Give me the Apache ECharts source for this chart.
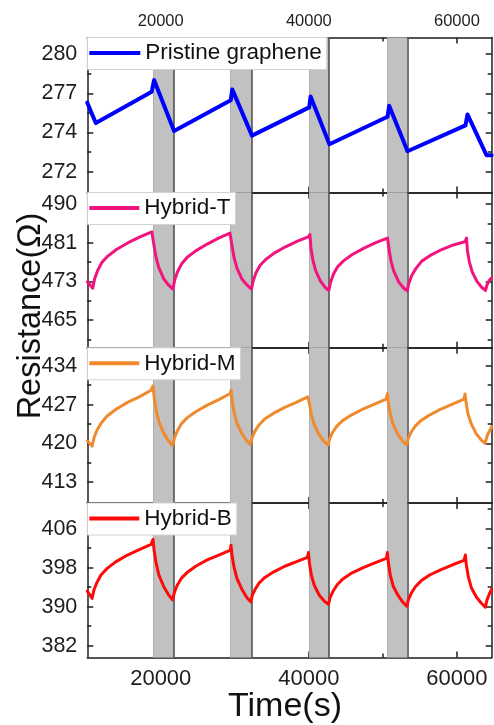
<!DOCTYPE html>
<html><head><meta charset="utf-8">
<script src="https://cdn.jsdelivr.net/npm/echarts@6/dist/echarts.min.js"></script>
<style>html,body{margin:0;padding:0;background:#fff}#c{width:494px;height:725px}</style>
</head><body><div id="c"></div>
<script>
// ---------------- data ----------------
const pristineTime = [10080, 11230, 18785, 19100, 21800, 29450, 29660, 32320, 40050, 40240, 42780, 50630, 50850, 53330, 61160, 61430, 63990, 64700];
const pristineRes  = [276.4, 275.1, 277.1, 277.85, 274.6, 276.55, 277.25, 274.3, 276.1, 276.8, 273.75, 275.5, 276.2, 273.3, 274.95, 275.65, 273.05, 273.05];

const hybridTTime = [10080, 10820,
  11059, 11458, 12016, 12813, 14008, 15602, 17196, 18790, 18920,
  19057, 19330, 19739, 20422, 21104, 21650,
  21881, 22266, 22805, 23575, 24730, 26270, 27810, 29350, 29490,
  29628, 29904, 30318, 31008, 31698, 32250,
  32480, 32864, 33401, 34168, 35318, 36852, 38386, 39920, 40150,
  40278, 40533, 40915, 41553, 42190, 42700,
  42938, 43334, 43890, 44683, 45872, 47458, 49044, 50630, 50720,
  50848, 51104, 51488, 52128, 52768, 53280,
  53514, 53903, 54449, 55228, 56396, 57954, 59512, 61070, 61300,
  61428, 61683, 62065, 62703, 63340, 63850,
  64084, 64400, 64700];
const hybridTRes = [472.9, 471.5,
  473.5, 475.3, 477.1, 478.5, 480.0, 481.5, 482.8, 483.9, 484.3,
  481.2, 478.5, 476.0, 473.5, 472.1, 471.3,
  473.3, 475.1, 476.8, 478.3, 479.7, 481.2, 482.5, 483.6, 483.8,
  480.8, 478.2, 475.8, 473.4, 472.1, 471.3,
  473.1, 474.9, 476.5, 477.8, 479.2, 480.6, 481.8, 482.8, 483.3,
  480.4, 477.8, 475.4, 473.1, 471.7, 471.0,
  472.8, 474.6, 476.2, 477.5, 478.9, 480.3, 481.5, 482.5, 482.8,
  479.9, 477.4, 475.2, 472.9, 471.6, 470.9,
  472.6, 474.3, 475.8, 477.4, 478.7, 480.0, 481.0, 481.7, 482.5,
  479.7, 477.3, 475.1, 473.0, 471.7, 471.0,
  472.3, 473.3, 473.8];

const hybridMTime = [10080, 10730,
  10969, 11367, 11924, 12720, 13914, 15506, 17098, 18690, 18960,
  19092, 19356, 19752, 20412, 21072, 21600,
  21834, 22224, 22770, 23550, 24720, 26280, 27840, 29400, 29500,
  29630, 29890, 30280, 30930, 31580, 32100,
  32333, 32720, 33263, 34038, 35200, 36750, 38300, 39850, 39950,
  40083, 40348, 40745, 41408, 42070, 42600,
  42836, 43228, 43778, 44563, 45740, 47310, 48880, 50450, 50610,
  50740, 50999, 51387, 52035, 52682, 53200,
  53433, 53821, 54364, 55140, 56304, 57856, 59408, 60960, 61100,
  61235, 61505, 61910, 62585, 63260, 63800,
  64100, 64700];
const hybridMRes = [420.4, 419.5,
  420.9, 422.3, 423.6, 424.9, 426.1, 427.4, 428.4, 429.6, 430.4,
  428.6, 426.1, 423.9, 421.8, 420.4, 419.6,
  420.9, 422.2, 423.5, 424.6, 425.7, 426.9, 427.9, 429.0, 429.6,
  427.9, 425.7, 423.7, 421.8, 420.5, 419.8,
  421.0, 422.2, 423.3, 424.4, 425.4, 426.5, 427.4, 428.4, 428.7,
  427.2, 425.1, 423.3, 421.5, 420.3, 419.7,
  420.9, 422.0, 423.1, 424.1, 425.1, 426.2, 427.1, 428.0, 429.0,
  427.4, 425.3, 423.4, 421.6, 420.4, 419.7,
  420.9, 422.0, 423.1, 424.1, 425.1, 426.2, 427.1, 428.0, 428.9,
  427.4, 425.3, 423.6, 421.8, 420.6, 420.0,
  421.4, 423.0];

const hybridBTime = [10080, 10730,
  10969, 11367, 11924, 12720, 13914, 15506, 17098, 18690, 18960,
  19092, 19356, 19752, 20412, 21072, 21600,
  21834, 22224, 22770, 23550, 24720, 26280, 27840, 29400, 29490,
  29623, 29889, 30288, 30953, 31618, 32150,
  32380, 32762, 33298, 34063, 35210, 36740, 38270, 39800, 39950,
  40085, 40355, 40760, 41435, 42110, 42650,
  42885, 43276, 43825, 44608, 45782, 47348, 48914, 50480, 50610,
  50741, 51003, 51396, 52051, 52706, 53230,
  53462, 53848, 54390, 55163, 56322, 57868, 59414, 60960, 61140,
  61275, 61545, 61950, 62625, 63300, 63840,
  64070, 64400, 64700];
const hybridBRes = [393.2, 391.7,
  393.4, 394.9, 396.5, 397.8, 399.2, 400.6, 401.7, 402.8, 403.8,
  401.7, 399.1, 396.5, 394.1, 392.4, 391.4,
  392.9, 394.4, 395.8, 397.0, 398.3, 399.6, 400.6, 401.6, 402.6,
  400.6, 398.2, 395.8, 393.6, 391.9, 391.0,
  392.4, 393.6, 394.9, 396.0, 397.1, 398.3, 399.2, 400.1, 401.1,
  398.9, 396.4, 394.3, 392.3, 391.1, 390.5,
  391.9, 393.2, 394.5, 395.7, 396.9, 398.0, 399.0, 399.9, 401.1,
  399.0, 396.5, 394.2, 392.3, 390.9, 390.1,
  391.5, 392.8, 394.1, 395.3, 396.5, 397.6, 398.6, 399.5, 400.6,
  398.6, 396.1, 393.9, 392.0, 390.7, 389.9,
  391.4, 392.7, 393.6];

const bandStarts = [19000, 29450, 40050, 50600];
const bandEnds   = [21800, 32300, 42750, 53300];

const xMajorTicks = [20000, 40000, 60000];
const xTickLabels = ['20000', '40000', '60000'];
const xMinorTicks = [30000, 50000];

const yMajorTicks1 = [272, 274.5, 277, 279.5];
const yTickLabels1 = ['272', '274', '277', '280'];
const yMinorTicks1 = [273.25, 275.75, 278.25];

const yMajorTicks2 = [464.5, 473, 481.5, 490];
const yTickLabels2 = ['465', '473', '481', '490'];
const yMinorTicks2 = [460.25, 468.75, 477.25, 485.75];

const yMajorTicks3 = [413, 420, 427, 434];
const yTickLabels3 = ['413', '420', '427', '434'];
const yMinorTicks3 = [416.5, 423.5, 430.5];

const yMajorTicks4 = [382, 390, 398, 406];
const yTickLabels4 = ['382', '390', '398', '406'];
const yMinorTicks4 = [386, 394, 402, 410];

const seriesNames = ['Pristine graphene', 'Hybrid-T', 'Hybrid-M', 'Hybrid-B'];

// ---------------- chart ----------------
const font = '"Liberation Sans", Arial, Helvetica, sans-serif';
const ink = '#1e1e1e';
const xMin = 10080, xMax = 64700;
const gridBoxes = [
  {top: 37.5, height: 155},
  {top: 192.5, height: 155.3},
  {top: 347.8, height: 155.2},
  {top: 503, height: 154.5}
];
const yRanges = [[270.67, 280.56], [458.39, 492.54], [409.2, 437.27], [379.58, 411.27]];
const yMajors = [yMajorTicks1, yMajorTicks2, yMajorTicks3, yMajorTicks4];
const yLabels = [yTickLabels1, yTickLabels2, yTickLabels3, yTickLabels4];
const yMinors = [yMinorTicks1, yMinorTicks2, yMinorTicks3, yMinorTicks4];
const colors = ['#0000ff', '#f2147e', '#f08a2e', '#ff0a0a'];
const widths = [4, 3, 3, 3];
const times = [pristineTime, hybridTTime, hybridMTime, hybridBTime];
const values = [pristineRes, hybridTRes, hybridMRes, hybridBRes];

function fmt(ticks, labels) {
  return v => { const i = ticks.findIndex(t => Math.abs(t - v) < 1e-6); return i >= 0 ? labels[i] : ''; };
}
const lineSt = {color: ink, width: 1.5};

const grid = [], xAxis = [], yAxis = [], series = [], legend = [];
gridBoxes.forEach((g, gi) => {
  grid.push({left: 87.3, right: 2.3, top: g.top, height: g.height, containLabel: false});
  const xb = {type: 'value', gridIndex: gi, min: xMin, max: xMax, splitLine: {show: false}, axisPointer: {show: false}};
  xAxis.push(Object.assign({}, xb, {position: 'bottom',
    axisLine: {show: true, onZero: false, lineStyle: lineSt},
    axisTick: {show: true, inside: true, length: 6, customValues: xMajorTicks, lineStyle: lineSt},
    axisLabel: {show: gi === 3, customValues: xMajorTicks, formatter: fmt(xMajorTicks, xTickLabels), fontSize: 22, margin: 10, color: ink, fontFamily: font}}));
  xAxis.push(Object.assign({}, xb, {position: 'bottom',
    axisLine: {show: false, onZero: false},
    axisTick: {show: true, inside: true, length: 4, customValues: xMinorTicks, lineStyle: lineSt},
    axisLabel: {show: false}}));
  xAxis.push(Object.assign({}, xb, {position: 'top',
    axisLine: {show: true, onZero: false, lineStyle: lineSt},
    axisTick: {show: true, inside: true, length: 6, customValues: xMajorTicks, lineStyle: lineSt},
    axisLabel: {show: gi === 0, customValues: xMajorTicks, formatter: fmt(xMajorTicks, xTickLabels), fontSize: 16.5, margin: 8, color: ink, fontFamily: font}}));
  xAxis.push(Object.assign({}, xb, {position: 'top',
    axisLine: {show: false, onZero: false},
    axisTick: {show: true, inside: true, length: 4, customValues: xMinorTicks, lineStyle: lineSt},
    axisLabel: {show: false}}));

  const yb = {type: 'value', gridIndex: gi, min: yRanges[gi][0], max: yRanges[gi][1], splitLine: {show: false}, axisPointer: {show: false}};
  yAxis.push(Object.assign({}, yb, {position: 'left',
    axisLine: {show: true, onZero: false, lineStyle: lineSt},
    axisTick: {show: true, inside: true, length: 6, customValues: yMajors[gi], lineStyle: lineSt},
    axisLabel: {show: true, customValues: yMajors[gi], formatter: fmt(yMajors[gi], yLabels[gi]), fontSize: 21.5, margin: 10, color: ink, fontFamily: font}}));
  yAxis.push(Object.assign({}, yb, {position: 'left',
    axisLine: {show: false, onZero: false},
    axisTick: {show: true, inside: true, length: 4, customValues: yMinors[gi], lineStyle: lineSt},
    axisLabel: {show: false}}));
  yAxis.push(Object.assign({}, yb, {position: 'right',
    axisLine: {show: true, onZero: false, lineStyle: lineSt},
    axisTick: {show: true, inside: true, length: 6, customValues: yMajors[gi], lineStyle: lineSt},
    axisLabel: {show: false}}));
  yAxis.push(Object.assign({}, yb, {position: 'right',
    axisLine: {show: false, onZero: false},
    axisTick: {show: true, inside: true, length: 4, customValues: yMinors[gi], lineStyle: lineSt},
    axisLabel: {show: false}}));

  // shaded bands
  series.push({type: 'line', xAxisIndex: gi * 4, yAxisIndex: gi * 4, data: [], silent: true, z: 1,
    markArea: {silent: true, itemStyle: {color: '#c1c1c1'}, label: {show: false},
      data: bandStarts.map((s, i) => [{xAxis: s}, {xAxis: bandEnds[i]}])},
    markLine: {silent: true, symbol: ['none', 'none'], label: {show: false}, animation: false,
      data: bandStarts.map(s => ({xAxis: s, lineStyle: {color: '#b0b0b0', width: 1, type: 'solid'}}))
        .concat(bandEnds.map(e => ({xAxis: e, lineStyle: {color: '#4a4a4a', width: 1.5, type: 'solid'}})))}
  });
  series.push({type: 'line', name: seriesNames[gi], xAxisIndex: gi * 4, yAxisIndex: gi * 4, z: 5,
    data: times[gi].map((t, i) => [t, values[gi][i]]), showSymbol: false, symbol: 'none',
    lineStyle: {color: colors[gi], width: widths[gi], join: 'round', cap: 'round'}, itemStyle: {color: colors[gi]}});

  legend.push({data: [seriesNames[gi]], left: 87.3, top: g.top, orient: 'horizontal', icon: 'rect',
    itemWidth: gi === 0 ? 51 : 50, itemHeight: 4, padding: [4, 5, 5, 2], backgroundColor: '#fff',
    borderColor: '#d2d2d2', borderWidth: 1, borderRadius: 0, selectedMode: false, z: 20,
    textStyle: {fontSize: 22.5, fontFamily: font, color: '#111'}});
});

const chart = echarts.init(document.getElementById('c'), null, {renderer: 'canvas'});
chart.setOption({
  animation: false,
  backgroundColor: '#fff',
  grid, xAxis, yAxis, series, legend,
  graphic: [
    {type: 'text', x: 31, y: 316, rotation: Math.PI / 2, z: 30,
      style: {text: 'Resistance(Ω)', fontSize: 32.5, fontFamily: font, fill: '#111', align: 'center', verticalAlign: 'middle'}},
    {type: 'text', x: 285, y: 707, z: 30,
      style: {text: 'Time(s)', fontSize: 34, fontFamily: font, fill: '#111', align: 'center', verticalAlign: 'middle'}}
  ]
});
</script></body></html>
